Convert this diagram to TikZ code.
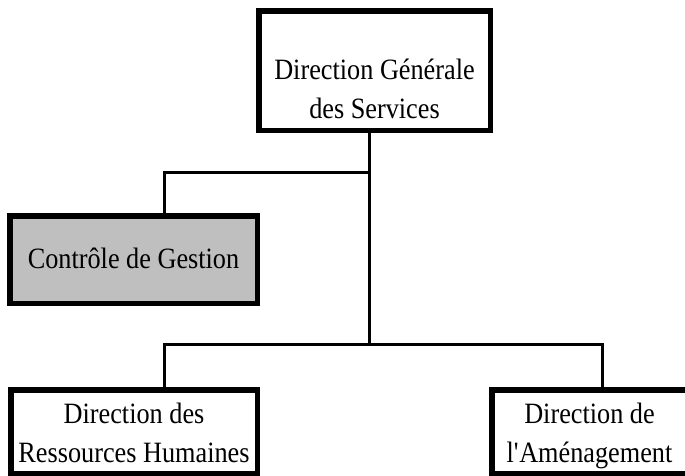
\documentclass[tikz,border=0pt]{standalone}
\usepackage{fontspec}
\setmainfont[FakeStretch=0.89]{Liberation Serif}
\definecolor{c0}{rgb}{0.75,0.75,0.75}
\tikzset{%
  unit/.style={rectangle,draw=black,line width=5.5pt,fill=#1,inner xsep=0pt,inner ysep=0pt,
    align=center,anchor=north west,font=\fontsize{29.5}{38.5}\selectfont},
  unit/.default=white,
  link/.style={line width=3pt}
}

\begin{document}
\begin{tikzpicture}[x=1pt,y=-1pt]
  \useasboundingbox (0,0) rectangle (685,475);
  \clip (0,0) rectangle (685,475);
  %%
  \node[unit,minimum width=231.5pt,text height=107.25pt,text depth=12.25pt] (dgs) at (256,8)
    {Direction Générale\\des Services};
  \node[unit=c0,minimum width=247.5pt,text height=52.25pt,text depth=35.25pt] (cg) at (7,213)
    {Contrôle de Gestion};
  \node[unit,minimum width=246.5pt,text height=72.25pt,text depth=11.25pt] (drh) at (8,387)
    {Direction des\\Ressources Humaines};
  \node[unit,minimum width=195.5pt,text height=72.25pt,text depth=11.25pt] (dam) at (489,387)
    {Direction de\\l\textquotesingle Aménagement};
  %%
  \coordinate (hubA) at (369,172);
  \coordinate (hubB) at (369,344);
  \coordinate (legC) at (164,172);
  \coordinate (legL) at (164,344);
  \coordinate (legR) at (602,344);
  %%
  \draw[link] (dgs.south -| hubA) -- (hubB);
  \draw[link] (hubA) -- (legC) -- (legC |- cg.north);
  \draw[link] (legL |- drh.north) -- (legL) -- (legR) -- (legR |- dam.north);
\end{tikzpicture}
\end{document}
